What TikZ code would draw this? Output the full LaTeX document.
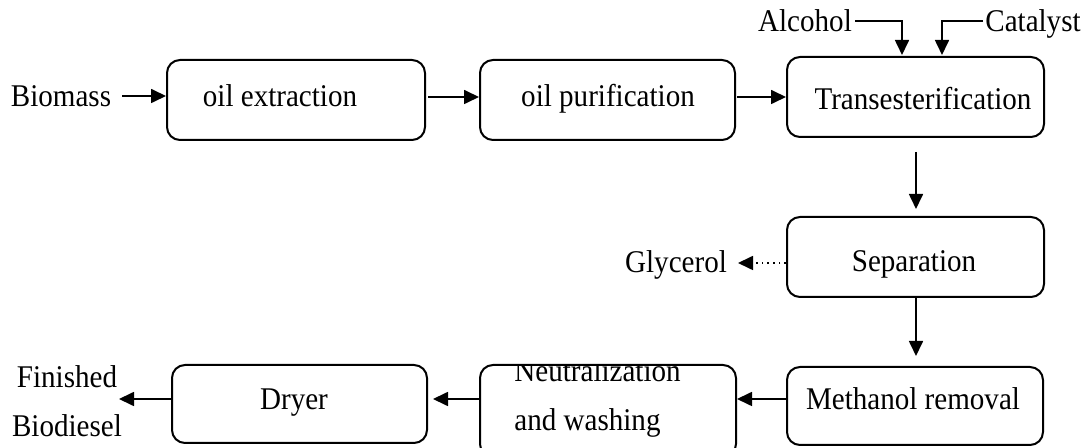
\documentclass[tikz,border=0pt]{standalone}
\usepackage{fontspec}
\setmainfont{Liberation Serif}
\usetikzlibrary{arrows.meta}
\newcommand\sqz[1]{\scalebox{0.92}[1]{#1}}
\begin{document}
\begin{tikzpicture}[x=0.5pt,y=-0.5pt,
  box/.style={draw,line width=1pt,rounded corners=6.5pt,inner sep=0pt},
  lab/.style={font=\fontsize{15.8}{18}\selectfont,inner sep=0pt,anchor=base},
  arr/.style={line width=0.85pt,-{Triangle[length=7.5pt,width=7pt]}},
  darr/.style={line width=0.85pt,dotted,-{Triangle[length=7.5pt,width=7pt]}}]
\useasboundingbox (0,0) rectangle (1087,448);
\clip (0,0) rectangle (1087,448);
% boxes (coordinates in pixels of the 1087x448 frame)
\node[box,minimum width=129pt,minimum height=40pt] (ext) at (296,100) {};
\node[box,minimum width=127.5pt,minimum height=40pt] (pur) at (607.5,100) {};
\node[box,minimum width=128.5pt,minimum height=40pt] (tr) at (915.5,97) {};
\node[box,minimum width=128.5pt,minimum height=40pt] (sep) at (915.5,257) {};
\node[box,minimum width=128pt,minimum height=39pt] (mr) at (915,406) {};
\node[box,minimum width=128pt,minimum height=46pt] (neu) at (608,411) {};
\node[box,minimum width=127.5pt,minimum height=39pt] (dry) at (299.5,404) {};
% box texts
\node[lab] (extt) at (280,107) {\sqz{oil extraction}};
\node[lab] (purt) at (608,107) {\sqz{oil purification}};
\node[lab] (trt) at (923,110) {\sqz{Transesterification}};
\node[lab] (sept) at (914,272) {\sqz{Separation}};
\node[lab] (mrt) at (913,410) {\sqz{Methanol removal}};
\begin{scope}
\clip (480,367) rectangle (736,448);
\node[lab,anchor=base west] (neu1) at (514,382) {\sqz{Neutralization}};
\end{scope}
\node[lab,anchor=base west] (neu2) at (514,430) {\sqz{and washing}};
\node[lab] (dryt) at (294,410) {\sqz{Dryer}};
% outside labels
\node[lab] (bio) at (61,107) {\sqz{Biomass}};
\node[lab] (alc) at (805,32) {\sqz{Alcohol}};
\node[lab] (cat) at (1033,32) {\sqz{Catalyst}};
\node[lab] (gly) at (676,273) {\sqz{Glycerol}};
\node[lab] (fin) at (67,388) {\sqz{Finished}};
\node[lab] (bdl) at (67,437) {\sqz{Biodiesel}};
% connector end points
\coordinate (b0) at (122,96);
\coordinate (e0) at (428,97);
\coordinate (p0) at (737,97);
\coordinate (a0) at (855,21);
\coordinate (ain) at (902,55);
\coordinate (c0) at (983,21);
\coordinate (cin) at (942,55);
\coordinate (t0) at (916,152);
\coordinate (g0) at (738,263);
\coordinate (m0) at (787,399);
\coordinate (n0) at (480,399);
\coordinate (d0) at (172,399);
\coordinate (f0) at (119,399);
% connectors
\draw[arr] (b0) -- (b0 -| ext.west);
\draw[arr] (e0) -- (e0 -| pur.west);
\draw[arr] (p0) -- (p0 -| tr.west);
\draw[arr] (a0) -| (ain);
\draw[arr] (c0) -| (cin);
\draw[arr,shorten >=3.5pt] (t0) -- (t0 |- sep.north);
\draw[darr] (g0 -| sep.west) -- (g0);
\draw[arr,shorten >=5pt] (sep.south -| t0) -- (mr.north -| t0);
\draw[arr] (m0 -| mr.west) -- (m0 -| neu.east);
\draw[arr,shorten >=2.5pt] (n0 -| neu.west) -- (n0 -| dry.east);
\draw[arr] (d0 -| dry.west) -- (f0);
\end{tikzpicture}
\end{document}
